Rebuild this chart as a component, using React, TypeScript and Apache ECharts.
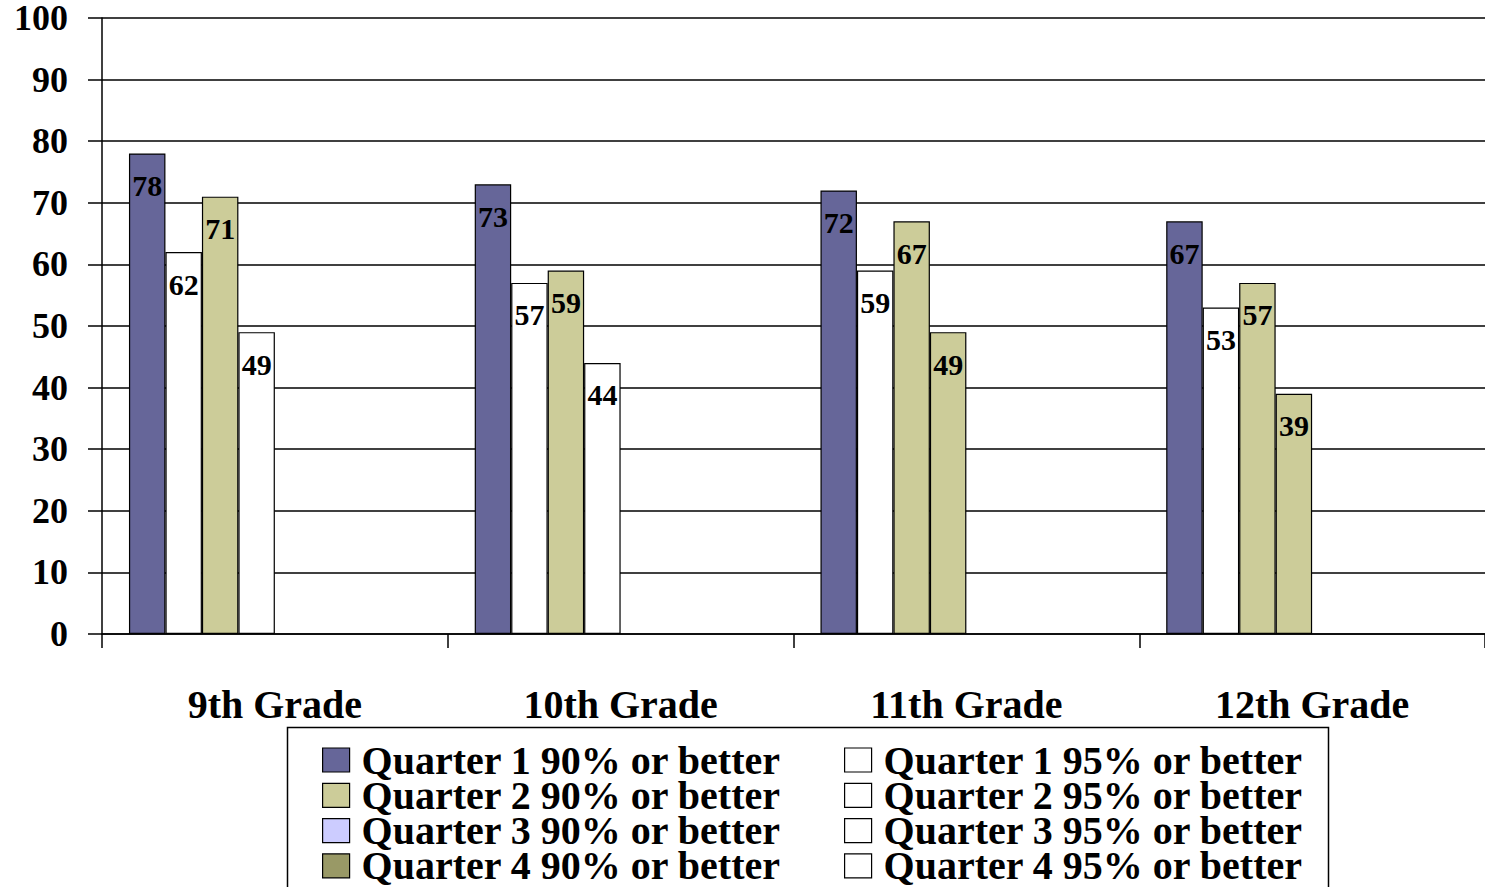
import React, { useEffect, useRef } from "react";
import * as echarts from "echarts";

const categories = ["9th Grade", "10th Grade", "11th Grade", "12th Grade"];
const seriesNames = [
  "Quarter 1 90% or better",
  "Quarter 1 95% or better",
  "Quarter 2 90% or better",
  "Quarter 2 95% or better",
  "Quarter 3 90% or better",
  "Quarter 3 95% or better",
  "Quarter 4 90% or better",
  "Quarter 4 95% or better",
];
const q1_90 = [78, 73, 72, 67];
const q1_95 = [62, 57, 59, 53];
const q2_90 = [71, 59, 67, 57];
const q2_95 = [49, 44, 49, 39];
const q3_90: (number | null)[] = [null, null, null, null];
const q3_95: (number | null)[] = [null, null, null, null];
const q4_90: (number | null)[] = [null, null, null, null];
const q4_95: (number | null)[] = [null, null, null, null];
const seriesValues = [q1_90, q1_95, q2_90, q2_95, q3_90, q3_95, q4_90, q4_95];
const seriesColors = ["#666699", "#ffffff", "#cccc99", "#ffffff", "#ccccff", "#ffffff", "#999966", "#ffffff"];
// the 4th bar in 11th and 12th grade is drawn khaki in the reference
const q2_95Colors = ["#ffffff", "#ffffff", "#cccc99", "#cccc99"];
const yTicks = [0, 10, 20, 30, 40, 50, 60, 70, 80, 90, 100];

const FONT = "'Liberation Serif', 'DejaVu Serif', serif";

export default function App() {
  const ref = useRef<HTMLDivElement>(null);
  useEffect(() => {
    if (!ref.current) return;
    const chart = echarts.init(ref.current, null, { renderer: "svg" });
    const series = seriesNames.map((name, i) => ({
      name,
      type: "bar",
      barGap: "0%",
      barCategoryGap: "15.6%",
      data: seriesValues[i].map((v, j) => ({
        value: v,
        itemStyle: {
          color: i === 3 ? q2_95Colors[j] : seriesColors[i],
        },
      })),
      itemStyle: { color: seriesColors[i], borderColor: "#000", borderWidth: 1.2 },
      label: {
        show: true,
        position: "insideTop",
        distance: 17,
        color: "#000",
        fontFamily: FONT,
        fontWeight: "bold",
        fontSize: 30,
      },
    }));
    const legendCommon = {
      orient: "vertical",
      itemWidth: 27,
      itemHeight: 24,
      itemGap: -4.7,
      padding: 0,
      height: 170,
      icon: "rect",
      selectedMode: false,
      textStyle: {
        fontFamily: FONT,
        fontWeight: "bold",
        fontSize: 40,
        color: "#000",
        padding: [0, 0, 0, 7],
      },
      itemStyle: { borderColor: "#000", borderWidth: 1.2 },
    };
    chart.setOption({
      animation: false,
      backgroundColor: "#fff",
      grid: { left: 102, right: 0, top: 18, bottom: 253, containLabel: false },
      xAxis: {
        type: "category",
        data: categories,
        axisLine: { lineStyle: { color: "#000", width: 1.5 } },
        axisTick: { show: true, length: 14, lineStyle: { color: "#000", width: 1.5 } },
        axisLabel: {
          margin: 50,
          color: "#000",
          fontFamily: FONT,
          fontWeight: "bold",
          fontSize: 40,
        },
      },
      yAxis: {
        type: "value",
        min: yTicks[0],
        max: yTicks[yTicks.length - 1],
        interval: 10,
        axisLine: { show: true, lineStyle: { color: "#000", width: 1.5 } },
        axisTick: { show: true, length: 14, lineStyle: { color: "#000", width: 1.5 } },
        splitLine: { lineStyle: { color: "#000", width: 1.5 } },
        axisLabel: {
          margin: 34,
          color: "#000",
          fontFamily: FONT,
          fontWeight: "bold",
          fontSize: 36,
        },
      },
      legend: [
        {
          ...legendCommon,
          left: 322,
          top: 740,
          data: [seriesNames[0], seriesNames[2], seriesNames[4], seriesNames[6]],
        },
        {
          ...legendCommon,
          left: 844,
          top: 740,
          data: [seriesNames[1], seriesNames[3], seriesNames[5], seriesNames[7]],
        },
      ],
      graphic: [
        {
          type: "rect",
          shape: { x: 287.5, y: 727.5, width: 1041, height: 200 },
          style: { fill: "none", stroke: "#000", lineWidth: 1.5 },
          z: -1,
        },
      ],
      series,
    });
    return () => chart.dispose();
  }, []);
  return (
    <div
      ref={ref}
      style={{ position: "fixed", left: 0, top: 0, width: 1485, height: 887 }}
    />
  );
}
